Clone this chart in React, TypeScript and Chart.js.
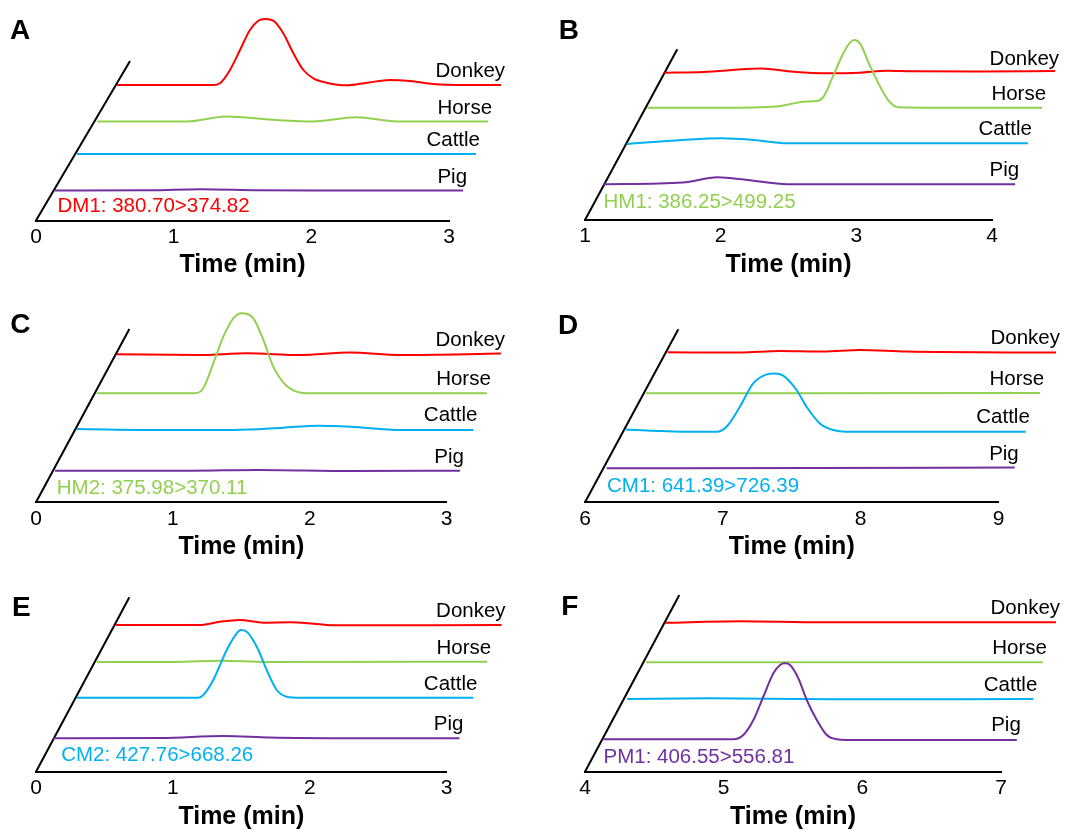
import React, { useEffect, useRef } from "react";
import { Chart, registerables } from "chart.js";

Chart.register(...registerables);

// ---------- categories / ticks ----------
const SPECIES = ["Pig", "Cattle", "Horse", "Donkey"];
const COLORS = ["#7030A0", "#00B0F0", "#92D050", "#FF0000"];

const TICKS_A = [0, 1, 2, 3];
const TICKS_B = [1, 2, 3, 4];
const TICKS_C = [0, 1, 2, 3];
const TICKS_D = [6, 7, 8, 9];
const TICKS_E = [0, 1, 2, 3];
const TICKS_F = [4, 5, 6, 7];

// ---------- series: [time (min), relative intensity] ----------
const A_PIG = [[0, 0], [0.7, 0.2], [1.07, 1.3], [1.5, 0.2], [2.0, 0], [3, 0]];
const A_CATTLE = [[0, 0], [1.5, 0], [3, 0]];
const A_HORSE = [[0, 0], [0.69, 0], [0.99, 5], [1.35, 1.7], [1.66, 0], [1.99, 4.3], [2.3, 0], [3, 0]];
const A_DONKEY = [[0, 0], [0.75, 0], [0.805, 1.7], [0.883, 15], [0.961, 35], [1.039, 55], [1.104, 64.3], [1.156, 66], [1.221, 64.3], [1.299, 51.7], [1.378, 31.7], [1.456, 15], [1.534, 6.7], [1.638, 2.3], [1.795, -0.3], [1.955, 2.3], [2.135, 5], [2.29, 4], [2.47, 1], [2.73, 0], [3, 0]];

const B_PIG = [[1, 0], [1.58, 1.7], [1.83, 7], [2.05, 4.3], [2.34, 0], [4, 0]];
const B_CATTLE = [[1, -0.7], [1.42, 3.3], [1.71, 5], [1.95, 3.3], [2.2, 0], [4, 0]];
const B_HORSE = [[1, 0], [1.6, 0], [1.86, 0.4], [2.01, 1.7], [2.19, 6], [2.29, 6.7], [2.34, 11], [2.41, 31], [2.49, 54.4], [2.54, 65], [2.573, 67.7], [2.616, 64.4], [2.69, 42.7], [2.77, 21], [2.84, 6], [2.91, 0.4], [3.2, 0], [4, 0]];
const B_DONKEY = [[1, 0], [1.3, 0.7], [1.63, 3.7], [1.74, 4.2], [1.99, 1], [2.25, -0.6], [2.5, 0], [2.71, 2], [2.9, 1.5], [3.4, 1.3], [4, 1.7]];

const C_PIG = [[0, 0], [1.0, 0], [1.5, 0.7], [2.2, -0.3], [3, 0]];
const C_CATTLE = [[0, 0], [0.68, -1], [1.19, -1], [1.56, 1.3], [1.82, 3.3], [2.07, 2.3], [2.45, -1], [3, -1]];
const C_HORSE = [[0, 0], [0.756, 0], [0.82, 5], [0.897, 30], [0.974, 56.7], [1.051, 75], [1.115, 80], [1.205, 75], [1.282, 53.3], [1.358, 26.7], [1.462, 7.3], [1.615, 0], [3, 0]];
const C_DONKEY = [[0, 0], [0.65, -0.7], [1.015, 1], [1.43, -0.7], [1.82, 1.7], [2.21, -0.7], [3, 0.7]];

const D_PIG = [[6, 0], [7.5, 0.3], [9, 0.7]];
const D_CATTLE = [[6, 1.3], [6.355, -0.7], [6.68, -1], [6.755, 4], [6.855, 24], [6.955, 47.3], [7.055, 56.3], [7.118, 57.3], [7.18, 55], [7.28, 40.7], [7.355, 24], [7.455, 7.3], [7.555, 0.7], [7.656, -1], [9, -1]];
const D_HORSE = [[6, 0], [9, 0.3]];
const D_DONKEY = [[6, 0], [6.558, -0.3], [6.867, 1.3], [7.2, 0.7], [7.485, 2.3], [7.846, 0.7], [9, -0.3]];

const E_PIG = [[0, 0], [0.8, 0.3], [1.26, 2.3], [1.6, 0.7], [2.2, 0], [3, 0]];
const E_CATTLE = [[0, 0], [0.92, 0], [0.958, 2.7], [1.033, 17.7], [1.135, 47.7], [1.21, 64.3], [1.24, 67.7], [1.286, 66], [1.362, 51], [1.437, 27.7], [1.513, 7.7], [1.589, 1], [1.689, 0], [3, 0]];
const E_HORSE = [[0, 0], [0.6, 0], [0.95, 1.3], [1.3, 0], [3, 0.3]];
const E_DONKEY = [[0, 0], [0.654, 0], [0.81, 3.3], [0.965, 5], [1.146, 2.3], [1.354, 2.7], [1.588, 0.7], [1.69, -0.3], [3, 0]];

const F_PIG = [[4, 0], [4.943, 0], [5.016, 4.3], [5.089, 19.3], [5.161, 42.7], [5.234, 66], [5.282, 74.3], [5.319, 76], [5.355, 74.3], [5.415, 61], [5.476, 39.3], [5.549, 19.3], [5.621, 4.3], [5.694, 0], [5.766, -0.7], [7, -0.7]];
const F_CATTLE = [[4, 0], [4.59, 0.7], [5.5, -0.3], [7, 0]];
const F_HORSE = [[4, 0], [7, 0]];
const F_DONKEY = [[4, -0.5], [4.575, 1], [5.2, 0], [7, 0]];

// ---------- layout (pseudo-3D depth offsets, positions) ----------
const LAYOUT_A = { left: 0, originX: 36, originY: 220.5, axisEndX: 449, dx: [0.138, 0.298, 0.443, 0.588], dy: [30, 66.5, 99, 135.5], sc: [0.988, 0.966, 0.947, 0.93], diag: [0.683, 159.5], mrm: [21.5, 8.2], letter: [10, 39] };
const LAYOUT_B = { left: 537, originX: 585, originY: 220, axisEndX: 992, dx: [0.135, 0.307, 0.459, 0.585], dy: [35.7, 76.7, 112.3, 147.3], sc: [1.012, 0.986, 0.97, 0.96], diag: [0.68, 170.7], mrm: [18.5, 11.7], letter: [558.7, 39.3] };
const LAYOUT_C = { left: 0, originX: 36, originY: 502.3, axisEndX: 446.7, dx: [0.139, 0.297, 0.443, 0.589], dy: [31.6, 73.3, 109, 148], sc: [0.986, 0.966, 0.95, 0.936], diag: [0.682, 173.3], mrm: [20.8, 8.3], letter: [10.2, 333] };
const LAYOUT_D = { left: 537, originX: 585, originY: 502.3, axisEndX: 998.5, dx: [0.157, 0.297, 0.443, 0.6], dy: [34, 71.6, 109, 150], sc: [0.987, 0.967, 0.953, 0.939], diag: [0.677, 173], mrm: [22, 10], letter: [558, 334] };
const LAYOUT_E = { left: 0, originX: 36, originY: 771.7, axisEndX: 446.7, dx: [0.126, 0.297, 0.443, 0.584], dy: [33.4, 74, 109.7, 146.7], sc: [0.989, 0.966, 0.951, 0.939], diag: [0.682, 174.4], mrm: [25.2, 10.7], letter: [12, 616] };
const LAYOUT_F = { left: 537, originX: 585, originY: 771.7, axisEndX: 1001, dx: [0.132, 0.305, 0.44, 0.577], dy: [32.4, 72.7, 109.4, 149.4], sc: [0.994, 0.976, 0.954, 0.94], diag: [0.68, 176.7], mrm: [18.5, 8.4], letter: [561.3, 615] };

const PANELS = [
  { letter: "A", mrm: "DM1: 380.70>374.82", mrmColor: COLORS[3], ticks: TICKS_A, traces: [A_PIG, A_CATTLE, A_HORSE, A_DONKEY], peak: 3, layout: LAYOUT_A },
  { letter: "B", mrm: "HM1: 386.25>499.25", mrmColor: COLORS[2], ticks: TICKS_B, traces: [B_PIG, B_CATTLE, B_HORSE, B_DONKEY], peak: 2, layout: LAYOUT_B },
  { letter: "C", mrm: "HM2: 375.98>370.11", mrmColor: COLORS[2], ticks: TICKS_C, traces: [C_PIG, C_CATTLE, C_HORSE, C_DONKEY], peak: 2, layout: LAYOUT_C },
  { letter: "D", mrm: "CM1: 641.39>726.39", mrmColor: COLORS[1], ticks: TICKS_D, traces: [D_PIG, D_CATTLE, D_HORSE, D_DONKEY], peak: 1, layout: LAYOUT_D },
  { letter: "E", mrm: "CM2: 427.76>668.26", mrmColor: COLORS[1], ticks: TICKS_E, traces: [E_PIG, E_CATTLE, E_HORSE, E_DONKEY], peak: 1, layout: LAYOUT_E },
  { letter: "F", mrm: "PM1: 406.55>556.81", mrmColor: COLORS[0], ticks: TICKS_F, traces: [F_PIG, F_CATTLE, F_HORSE, F_DONKEY], peak: 0, layout: LAYOUT_F },
];

const FONT = "'Liberation Sans', Arial, Helvetica, sans-serif";
const CW = 537;
const CH = 290;
const AXIS_H = 60;
const Y_RANGE = 200;

function Panel({ p }: { p: any }) {
  const ref = useRef<HTMLCanvasElement>(null);
  const L = p.layout;
  const canvasTop = Math.floor(L.originY) - 215;

  useEffect(() => {
    if (!ref.current) return;
    const tMin = p.ticks[0];
    const tMax = p.ticks[p.ticks.length - 1];
    const datasets: any[] = [];
    p.traces.forEach((tr: number[][], k: number) => {
      datasets.push({
        label: SPECIES[k],
        data: tr.map(([t, v]) => ({ x: tMin + L.dx[k] + (t - tMin) * L.sc[k], y: L.dy[k] + v })),
        borderColor: COLORS[k],
        borderWidth: 2,
        pointRadius: 0,
        cubicInterpolationMode: "monotone",
        capBezierPoints: false,
        fill: false,
        clip: false,
        order: k === p.peak ? 0 : 5 - k,
      });
    });
    datasets.push({
      label: "depth axis",
      data: [{ x: tMin, y: 0 }, { x: tMin + L.diag[0], y: L.diag[1] }],
      borderColor: "#000",
      borderWidth: 2,
      pointRadius: 0,
      tension: 0,
      fill: false,
      clip: false,
      order: 10,
    });

    const labelPlugin = {
      id: "panelLabels",
      afterDatasetsDraw(chart: any) {
        const ctx = chart.ctx;
        const xs = chart.scales.x;
        const ys = chart.scales.y;
        ctx.save();
        ctx.font = `20.5px ${FONT}`;
        ctx.fillStyle = "#000";
        ctx.textAlign = "right";
        ctx.textBaseline = "alphabetic";
        p.traces.forEach((tr: number[][], k: number) => {
          const last = tr[tr.length - 1][0];
          const xv = tMin + L.dx[k] + (last - tMin) * L.sc[k];
          ctx.fillText(SPECIES[k], xs.getPixelForValue(xv) + 4, ys.getPixelForValue(L.dy[k]) - 8);
        });
        ctx.textAlign = "left";
        ctx.fillStyle = p.mrmColor;
        ctx.fillText(p.mrm, xs.getPixelForValue(tMin) + L.mrm[0], ys.getPixelForValue(0) - L.mrm[1]);
        ctx.fillStyle = "#000";
        ctx.font = `bold 28px ${FONT}`;
        ctx.fillText(p.letter, L.letter[0] - L.left, L.letter[1] - canvasTop);
        ctx.restore();
      },
    };

    const chartBottom = L.originY - canvasTop;
    const chart = new Chart(ref.current, {
      type: "line",
      data: { datasets },
      options: {
        responsive: false,
        animation: false,
        events: [],
        layout: {
          padding: {
            left: L.originX - L.left,
            right: CW - (L.axisEndX - L.left),
            top: chartBottom - Y_RANGE,
            bottom: CH - chartBottom - AXIS_H,
          },
        },
        plugins: { legend: { display: false }, tooltip: { enabled: false }, title: { display: false } },
        scales: {
          x: {
            type: "linear",
            afterDataLimits: (s: any) => {
              s.min = tMin;
              s.max = tMax;
            },
            afterFit: (s: any) => {
              s.height = AXIS_H;
            },
            ticks: {
              stepSize: 1,
              color: "#000",
              padding: 4,
              maxRotation: 0,
              font: { family: FONT, size: 21 },
            },
            grid: { display: false, drawTicks: false },
            border: { display: true, color: "#000", width: 2 },
            title: {
              display: true,
              text: "Time (min)",
              color: "#000",
              padding: { top: 0, bottom: 0 },
              font: { family: FONT, size: 25, weight: "bold" },
            },
          },
          y: { type: "linear", display: false, min: 0, max: Y_RANGE },
        },
      },
      plugins: [labelPlugin],
    } as any);
    return () => chart.destroy();
  }, []);

  return (
    <canvas
      ref={ref}
      width={CW}
      height={CH}
      style={{ position: "absolute", left: L.left, top: canvasTop, width: CW, height: CH }}
    />
  );
}

export default function App() {
  return (
    <div style={{ position: "absolute", left: 0, top: 0, width: 1074, height: 831, overflow: "hidden", background: "#fff" }}>
      {PANELS.map((p) => (
        <Panel key={p.letter} p={p} />
      ))}
    </div>
  );
}
